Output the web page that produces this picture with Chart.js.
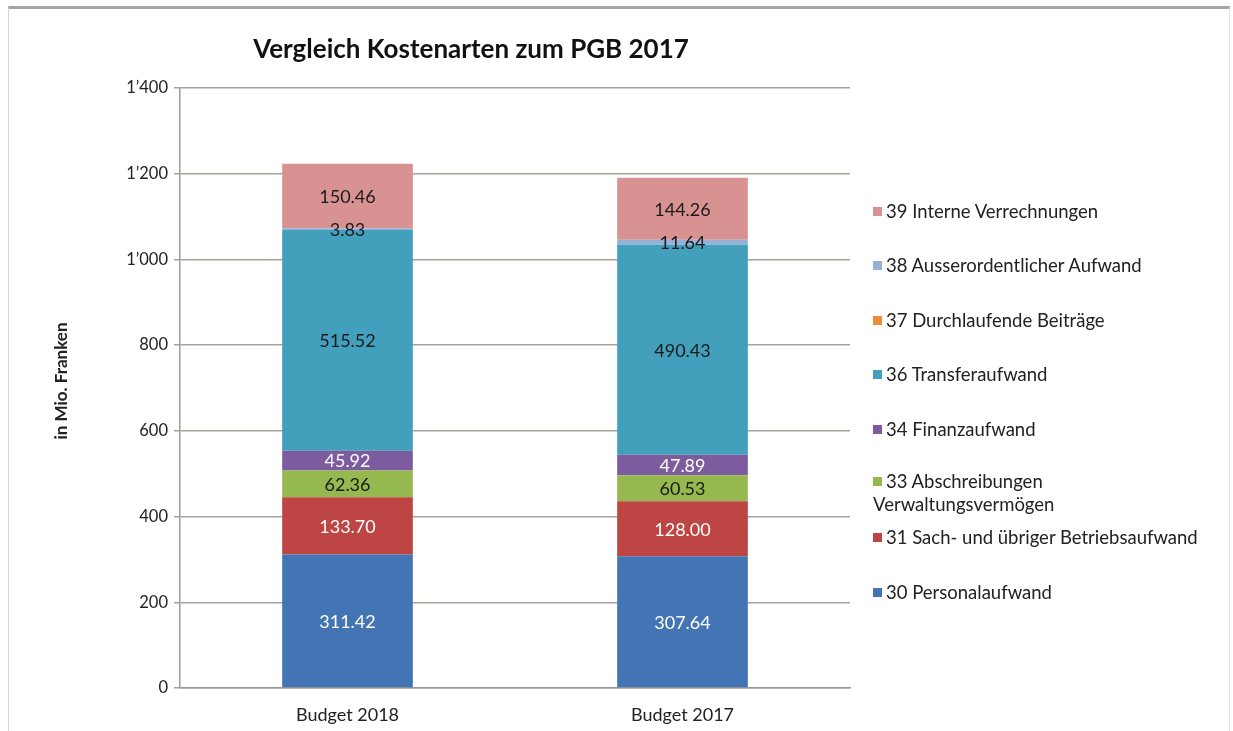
<!DOCTYPE html>
<html>
<head>
<meta charset="utf-8">
<script src="https://cdn.jsdelivr.net/npm/chart.js@4/dist/chart.umd.min.js"></script>
<style>
  body { margin: 0; background: #fff; }
  .frame { position: absolute; left: 8px; top: 6px; width: 1220px; height: 740px;
           border-top: 3px solid #aaa5a0; border-left: 1px solid #d8d8d8; border-right: 1px solid #e2e2e2; }
  .wrap { position: absolute; left: 0; top: 0; width: 1233px; height: 731px; }
  #legend { position: absolute; left: 873px; top: 200px; font-family: Lato, sans-serif; font-size: 18.5px; color: #222; }
  #legend .item { position: absolute; left: 0; white-space: nowrap; line-height: 23px; }
  #legend .box { display: inline-block; width: 9px; height: 9px; margin-right: 4px; vertical-align: 2px; }
  #legend .cont { display: block; }
</style>
</head>
<body>
<div class="frame"></div>
<div class="wrap"><canvas id="chart" width="1233" height="731"></canvas></div>
<div id="legend"></div>
<script>
const categories = ['Budget 2018', 'Budget 2017'];

const personal = [311.42, 307.64];
const sachaufwand = [133.70, 128.00];
const abschreibungen = [62.36, 60.53];
const finanz = [45.92, 47.89];
const durchlaufend = [0, 0];
const transfer = [515.52, 490.43];
const ausserordentlich = [3.83, 11.64];
const intern = [150.46, 144.26];

const yTicks = [0, 200, 400, 600, 800, 1000, 1200, 1400];

const series = [
  { label: '30 Personalaufwand', data: personal, color: '#4374b4', text: '#ffffff' },
  { label: '31 Sach- und übriger Betriebsaufwand', data: sachaufwand, color: '#bd4543', text: '#ffffff' },
  { label: ['33 Abschreibungen', 'Verwaltungsvermögen'], data: abschreibungen, color: '#95b84f', text: '#1a1a1a' },
  { label: '34 Finanzaufwand', data: finanz, color: '#7c5b9f', text: '#ffffff' },
  { label: '37 Durchlaufende Beiträge', data: durchlaufend, color: '#f08b3a', text: '#1a1a1a' },
  { label: '36 Transferaufwand', data: transfer, color: '#42a0bd', text: '#1a1a1a' },
  { label: '38 Ausserordentlicher Aufwand', data: ausserordentlich, color: '#95b1d6', text: '#1a1a1a' },
  { label: '39 Interne Verrechnungen', data: intern, color: '#d99292', text: '#1a1a1a' }
];

// legend order as in the picture (top to bottom)
const legendOrder = [7, 6, 4, 5, 3, 2, 1, 0];
const legendY = [0, 54, 109, 163, 218, 270, 326, 381];

const FONT = 'Lato, sans-serif';

const fmtTick = v => {
  const s = String(v);
  return s.length > 3 ? s.slice(0, s.length - 3) + '\u2019' + s.slice(-3) : s;
};

const overlay = {
  id: 'overlay',
  afterDatasetsDraw(chart) {
    const ctx = chart.ctx;
    ctx.save();
    ctx.font = '18px ' + FONT;
    ctx.textAlign = 'center';
    ctx.textBaseline = 'middle';
    chart.data.datasets.forEach((ds, i) => {
      const meta = chart.getDatasetMeta(i);
      meta.data.forEach((bar, j) => {
        const v = ds.data[j];
        if (!v) return;
        const p = bar.getProps(['x', 'y', 'base'], true);
        ctx.fillStyle = series[i].text;
        ctx.fillText(v.toFixed(2), p.x, (p.y + p.base) / 2 + 1);
      });
    });
    ctx.restore();
  },
  afterDraw(chart) {
    const ctx = chart.ctx;
    ctx.save();
    ctx.fillStyle = '#111';
    ctx.font = 'bold 26px ' + FONT;
    ctx.textAlign = 'center';
    ctx.textBaseline = 'middle';
    ctx.fillText('Vergleich Kostenarten zum PGB 2017', 471, 50);
    ctx.translate(62, 381);
    ctx.rotate(-Math.PI / 2);
    ctx.font = 'bold 17px ' + FONT;
    ctx.fillStyle = '#222';
    ctx.fillText('in Mio. Franken', 0, 0);
    ctx.restore();
  }
};

new Chart(document.getElementById('chart'), {
  type: 'bar',
  data: {
    labels: categories,
    datasets: series.map(s => ({
      label: s.label,
      data: s.data,
      backgroundColor: s.color,
      borderWidth: 0,
      categoryPercentage: 0.78,
      barPercentage: 0.5
    }))
  },
  options: {
    responsive: false,
    animation: false,
    layout: { padding: { left: 0, top: 88, right: 383, bottom: 0 } },
    plugins: { legend: { display: false }, tooltip: { enabled: false }, title: { display: false } },
    scales: {
      x: {
        stacked: true,
        grid: { display: false, drawTicks: false },
        border: { color: '#a09a95', width: 1.5 },
        ticks: { color: '#222', font: { family: FONT, size: 18 }, padding: 16 },
        afterFit: s => { s.height = 43; }
      },
      y: {
        stacked: true,
        min: 0,
        max: 1400,
        afterBuildTicks: s => { s.ticks = yTicks.map(v => ({ value: v })); },
        grid: { color: '#a9a19b', lineWidth: 1.5, tickLength: 6 },
        border: { color: '#a09a95', width: 1.5 },
        ticks: { color: '#222', font: { family: FONT, size: 16.5 }, padding: 6, callback: v => fmtTick(v) },
        afterFit: s => { s.width = 180; }
      }
    }
  },
  plugins: [overlay]
});

const legend = document.getElementById('legend');
legendOrder.forEach((idx, k) => {
  const s = series[idx];
  const item = document.createElement('div');
  item.className = 'item';
  item.style.top = legendY[k] + 'px';
  const lines = Array.isArray(s.label) ? s.label : [s.label];
  item.innerHTML = '<span class="box" style="background:' + s.color + '"></span>' + lines[0] +
    (lines[1] ? '<span class="cont">' + lines[1] + '</span>' : '');
  legend.appendChild(item);
});
</script>
</body>
</html>
